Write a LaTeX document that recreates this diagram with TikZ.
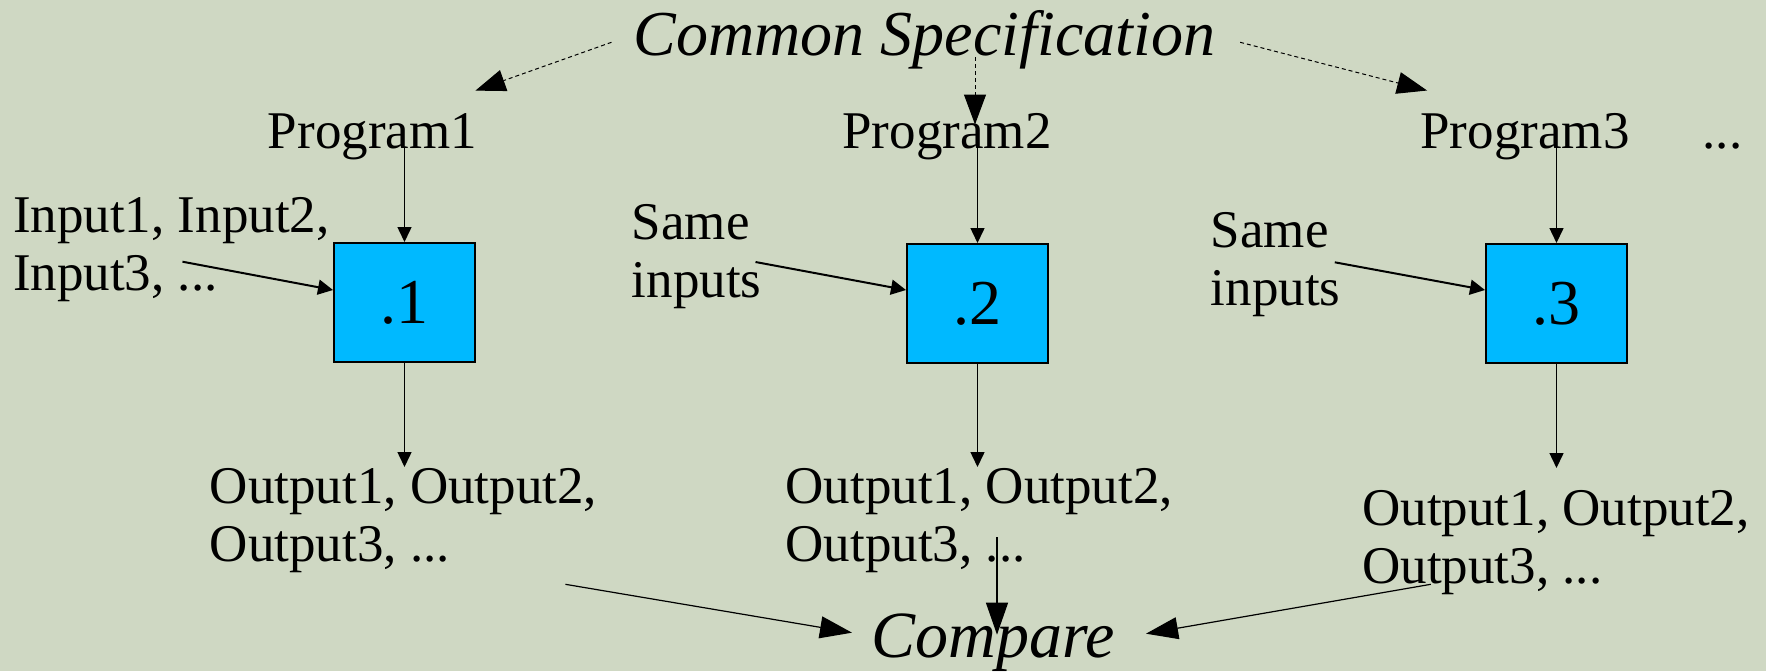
\documentclass[tikz,border=0pt]{standalone}
\usepackage{fontspec}
\setmainfont{Liberation Serif}
\usetikzlibrary{arrows.meta,calc}
\definecolor{bg}{RGB}{207,216,195}
\definecolor{boxfill}{RGB}{0,185,255}
\begin{document}
\begin{tikzpicture}[x=0.5pt,y=-0.5pt,
  txt/.style={inner sep=0pt, font=\fontsize{26.5pt}{29pt}\selectfont, align=left},
  big/.style={inner sep=0pt, font=\fontsize{32pt}{38pt}\selectfont\itshape},
  procbox/.style={draw=black, line width=1pt, fill=boxfill, minimum width=70.5pt, minimum height=59.5pt, inner sep=0pt, font=\fontsize{32pt}{36pt}\selectfont},
  sarrow/.style={line width=0.75pt, -{Triangle[length=7.5pt,width=7pt]}},
  iarrow/.style={line width=1pt, -{Triangle[length=7.5pt,width=7.5pt]}},
  carrow/.style={line width=0.6pt, -{Triangle[length=16pt,width=11pt]}},
  darrow/.style={line width=0.5pt, dash pattern=on 2pt off 1.5pt, -{Triangle[length=15pt,width=11pt]}}]
\fill[bg] (0,0) rectangle (1766,671);
\useasboundingbox (0,0) rectangle (1766,671);

% title and compare
\node[big, anchor=base] (spec) at (924.5,55) {Common Specification};
\node[big, anchor=base, font=\fontsize{33pt}{38pt}\selectfont\itshape] (cmp) at (993,657) {Compare};

% programs
\node[txt, anchor=base] (prog1) at (372.5,148) {Program1};
\node[txt, anchor=base] (prog2) at (947,148) {Program2};
\node[txt, anchor=base] (prog3) at (1525,148) {Program3};
\node[txt, anchor=base] (more) at (1722.5,148) {...};

% boxes
\node[procbox] (box1) at (404.5,302.5) {.1};
\node[procbox] (box2) at (977.5,303.5) {.2};
\node[procbox] (box3) at (1556.5,303.5) {.3};

% inputs (anchor on the baseline of the last line)
\node[txt, anchor=base west] (in1) at (12.6,290) {Input1, Input2,\\Input3, ...};
\node[txt, anchor=base west] (in2) at (631.5,297) {Same\\inputs};
\node[txt, anchor=base west] (in3) at (1210.5,305) {Same\\inputs};

% outputs
\node[txt, anchor=base west] (out1) at (209.5,561.7) {Output1, Output2,\\Output3, ...};
\node[txt, anchor=base west] (out2) at (785.3,561.7) {Output1, Output2,\\Output3, ...};
\node[txt, anchor=base west] (out3) at (1362,583.3) {Output1, Output2,\\Output3, ...};

% free-end coordinates
\coordinate (i1s) at (182.5,261.7);
\coordinate (i2s) at (755.5,262);
\coordinate (i3s) at (1334.8,262.3);
\coordinate (o1e) at (404.5,467);
\coordinate (o2e) at (977.5,467);
\coordinate (o3e) at (1556.5,468);
\coordinate (c1s) at (565.4,584.3);
\coordinate (c2s) at (997,537);
\coordinate (c3s) at (1430.8,584.3);

% spec -> programs (dotted)
\draw[darrow] ($(spec.west)+(-22,3)$) -- ($(prog1.north east)+(-2,-22)$);
\draw[darrow] ($(spec.base)+(50.5,2)$) -- ($(prog2.north)+(28,12)$);
\draw[darrow] ($(spec.east)+(24.6,3)$) -- ($(prog3.north west)+(7,-22)$);

% programs -> boxes
\draw[sarrow] (prog1.base -| box1.north) -- (box1.north);
\draw[sarrow] (prog2.base -| box2.north) -- (box2.north);
\draw[sarrow] (prog3.base -| box3.north) -- (box3.north);

% inputs -> boxes
\draw[iarrow] (i1s) -- ($(box1.west)+(0,-12.5)$);
\draw[iarrow] (i2s) -- ($(box2.west)+(0,-13.5)$);
\draw[iarrow] (i3s) -- ($(box3.west)+(0,-13.5)$);

% boxes -> outputs
\draw[sarrow] (box1.south) -- (o1e);
\draw[sarrow] (box2.south) -- (o2e);
\draw[sarrow] (box3.south) -- (o3e);

% outputs -> compare
\draw[carrow] (c1s) -- ($(cmp.west)+(-19,-9.5)$);
\draw[carrow] (c2s) -- ($(c2s |- cmp.center)+(0,-7.5)$);
\draw[carrow] (c3s) -- ($(cmp.east)+(31,-8.5)$);
\end{tikzpicture}
\end{document}
